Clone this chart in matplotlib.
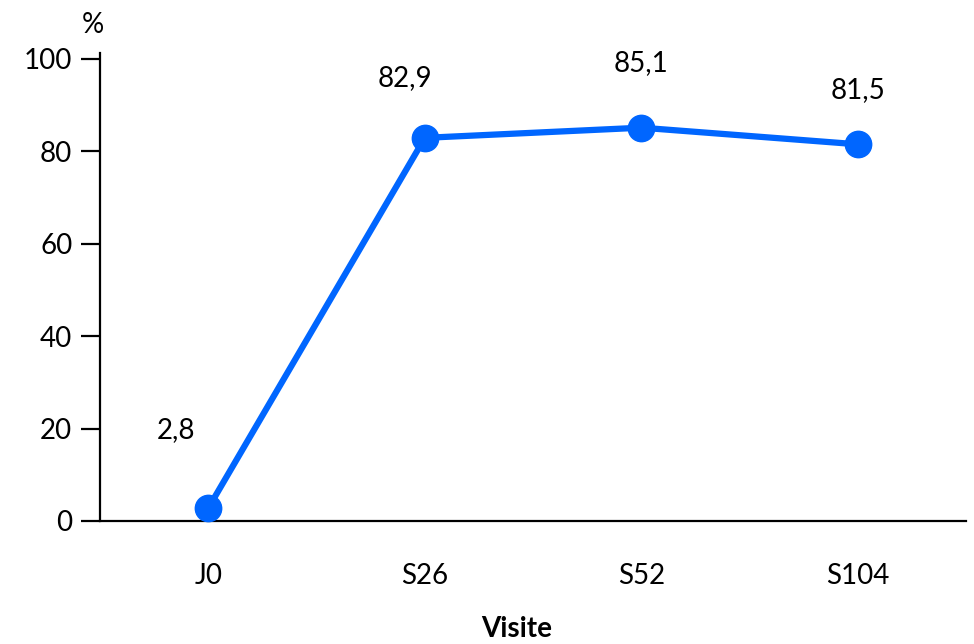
import matplotlib
matplotlib.use("Agg")
import matplotlib.pyplot as plt

plt.rcParams['font.family'] = ['Lato', 'DejaVu Sans']

visits = ["J0", "S26", "S52", "S104"]
pct = [2.8, 82.9, 85.1, 81.5]
value_labels = ["2,8", "82,9", "85,1", "81,5"]
yticks = [0, 20, 40, 60, 80, 100]

# label offsets in pixels from each point
offsets = [(-32, 78), (-20, 60), (0, 65), (0, 54)]

blue = "#0066ff"
fs = 20

fig = plt.figure(figsize=(9.74, 6.44), dpi=100)
ax = fig.add_axes([0.1027, 0.191, 0.8893, 0.727])

x = list(range(len(visits)))
ax.plot(x, pct, color=blue, lw=4.5, marker="o", ms=19, clip_on=False, zorder=3)

for xi, yi, lab, off in zip(x, pct, value_labels, offsets):
    ax.annotate(lab, (xi, yi), xytext=off, textcoords="offset pixels",
                ha="center", va="center", fontsize=fs)

ax.set_xlim(-0.5, 3.5)
ax.set_ylim(0, 101.3)
ax.set_xticks(x)
ax.set_xticklabels(visits, fontsize=fs)
ax.set_yticks(yticks)
ax.set_yticklabels([str(t) for t in yticks], fontsize=fs)
ax.tick_params(axis="x", length=0, pad=30)
ax.tick_params(axis="y", length=14, width=1.6, pad=6)

for side in ["top", "right"]:
    ax.spines[side].set_visible(False)
for side in ["left", "bottom"]:
    ax.spines[side].set_linewidth(1.6)

# axis titles placed in figure coordinates
fig.text(517 / 974, 1 - 629 / 644, "Visite", fontsize=fs, fontweight="bold",
         ha="center", va="center")
fig.text(93 / 974, 1 - 25 / 644, "%", fontsize=fs, ha="center", va="center")

fig.savefig("out.png", dpi=100)
